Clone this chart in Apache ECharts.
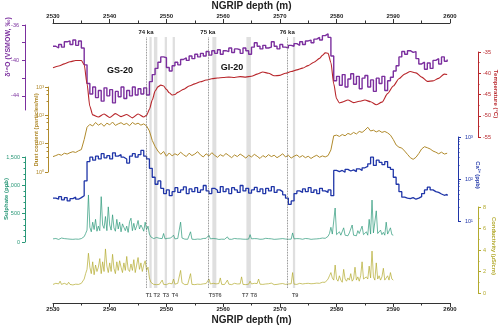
<!DOCTYPE html>
<html><head><meta charset="utf-8">
<script src="https://cdn.jsdelivr.net/npm/echarts@6/dist/echarts.min.js"></script>
<style>html,body{margin:0;padding:0;background:#fff}#c{width:500px;height:326px}</style>
</head><body><div id="c"></div>
<script>
// ---------- data ----------
const depthMin = 2530, depthMax = 2600;
const xTickLabels = [2530, 2540, 2550, 2560, 2570, 2580, 2590, 2600];

// δ18O, 0.5 m samples from 2530
const d18oStart = 2530, d18oStep = 0.5;
const d18oValues = [
 -38.4,-38.6,-38.2,-38.5,-37.9,-37.8,-38.2,-37.7,-38.3,-37.8,
 -38.6,-40.5,-42.6,-43.8,-43.0,-44.2,-43.4,-44.6,-43.1,-44.0,
 -43.3,-44.8,-43.5,-44.1,-43.0,-44.3,-43.4,-44.0,-43.0,-43.9,
 -43.2,-43.8,-43.1,-43.9,-42.4,-41.6,-40.9,-40.2,-39.6,-39.7,
 -40.8,-41.2,-40.6,-40.2,-40.5,-39.9,-39.7,-40.0,-39.5,-39.8,
 -39.3,-39.6,-39.2,-39.5,-39.0,-39.4,-38.9,-39.2,-38.8,-39.3,
 -38.9,-39.0,-38.6,-39.1,-38.7,-38.8,-39.2,-38.6,-38.9,-39.3,
 -38.5,-38.0,-38.4,-38.7,-38.3,-38.6,-38.5,-37.9,-38.4,-38.7,
 -38.2,-38.5,-38.6,-38.3,-38.4,-38.1,-38.3,-37.9,-38.2,-37.8,
 -37.7,-38.0,-37.6,-37.4,-37.7,-37.2,-37.0,-37.4,-39.5,-42.3,
 -41.8,-42.8,-41.6,-43.0,-42.1,-41.5,-42.7,-41.8,-43.2,-42.0,
 -41.7,-43.0,-42.2,-43.5,-42.0,-42.6,-41.8,-43.4,-42.3,-41.9,
 -41.2,-40.6,-39.6,-39.0,-39.3,-38.9,-39.1,-39.0,-39.8,-40.4,
 -40.2,-41.0,-40.3,-40.9,-40.0,-39.8,-40.4,-39.6,-40.1,-39.9
];

// Temperature (°C)
const tempDepths = [
 2530,2531,2532,2533,2534,2535,2535.5,2536,2536.5,2537,
 2538,2539,2540,2541,2542,2543,2544,2545,2546,2546.5,
 2547,2547.5,2548,2548.5,2549,2549.5,2550,2550.5,2551,2551.5,
 2552,2553,2554,2555,2556,2557,2558,2559,2560,2561,
 2562,2563,2564,2565,2566,2567,2568,2569,2570,2571,
 2572,2573,2574,2575,2576,2577,2577.5,2578,2578.5,2579,
 2579.5,2580,2580.5,2581,2582,2583,2584,2585,2586,2587,
 2588,2589,2590,2591,2592,2593,2594,2595,2596,2597,
 2598,2599,2599.5
];
const tempValues = [
 -38.7,-38.3,-37.8,-37.3,-37.0,-37.0,-38.0,-42.5,-47.8,-49.8,
 -50.3,-49.6,-50.4,-49.5,-50.2,-49.7,-50.5,-49.6,-50.3,-49.9,
 -48.5,-46.3,-44.2,-43.2,-42.8,-43.0,-43.8,-44.6,-45.1,-45.0,
 -44.5,-43.8,-43.0,-42.5,-42.0,-41.6,-41.3,-41.1,-41.0,-40.9,
 -41.0,-40.8,-40.9,-40.7,-40.2,-39.7,-40.0,-40.6,-40.5,-40.0,
 -39.6,-39.2,-38.8,-38.2,-37.4,-36.5,-35.8,-35.2,-35.3,-37.5,
 -42.5,-46.0,-47.0,-46.8,-46.3,-46.9,-46.6,-46.3,-46.7,-47.4,
 -46.8,-44.8,-43.0,-41.3,-40.2,-39.6,-39.9,-40.9,-41.9,-41.8,
 -41.2,-40.2,-40.3
];

// Dust (particles/ml), 0.5 m samples from 2530
const dustStart = 2530, dustStep = 0.5;
const dustValues = [
 3.5,3.8,4.2,3.9,4.6,4.3,4.8,5.2,4.9,5.6,
 6.2,14,38,48,42,56,45,52,41,53,
 46,58,44,50,55,47,52,43,56,48,
 53,45,50,42,28,13,8,5.5,4.2,5.3,
 3.6,4.7,3.7,4.4,3.9,5.0,4.1,3.5,4.6,3.8,
 4.3,5.2,4.0,3.4,4.4,3.7,4.8,3.9,3.3,4.1,
 3.6,4.5,3.8,3.2,4.0,3.5,4.3,3.7,3.1,3.9,
 3.4,4.2,3.6,3.0,3.8,3.3,4.1,3.5,3.9,3.2,
 3.7,4.4,3.4,3.9,3.1,3.6,4.0,3.3,3.8,3.2,
 3.6,3.0,3.5,3.9,3.3,3.7,3.4,3.8,6.0,19,
 20,18,21,19,23,21,25,22,27,25,
 30,38,28,30,26,29,25,27,24,20,
 14,9,7.5,7,5.5,4.2,3.2,2.8,3.3,4.5,
 6.5,7.8,7.2,6.5,5.5,5.0,4.4,5.0,4.3,4.6
];

// Ca2+ (ppb), 0.5 m samples from 2530
const caStart = 2530, caStep = 0.5;
const caValues = [
 35,33,38,32,36,30,34,37,33,36,
 40,90,260,330,280,350,300,400,320,360,
 300,420,350,380,330,300,240,350,400,330,
 380,480,350,300,180,110,75,90,60,45,
 55,40,50,62,48,55,65,45,58,50,
 62,48,55,70,52,45,60,54,48,66,
 50,58,45,62,55,48,70,52,60,46,
 55,63,50,58,45,60,52,66,48,55,
 50,42,35,25,30,45,52,48,58,50,
 62,48,55,45,60,52,48,55,40,160,
 150,160,145,170,155,165,150,175,160,185,
 200,230,330,210,280,250,220,260,190,170,
 110,75,50,37,35,34,36,33,35,38,
 45,55,64,55,50,48,44,41,43,40
];

// Sulphate (ppb), 0.25 m samples from 2530
const so4Start = 2530, so4Step = 0.25;
const so4Values = [
 55,48,62,50, 45,58,70,52, 60,48,55,85, 50,62,47,58, 52,66,49,55,
 60,48,95,150, 210,830,260,180, 350,220,400,190, 280,200,800,300, 240,450,200,620,
 300,210,480,250, 190,400,230,350, 180,320,260,200, 280,170,360,420, 200,330,210,280,
 380,230,300,250, 190,350,220,280, 140,90,70,60, 55,80,50,65, 48,60,150,55,
 50,65,48,70, 45,120,55,50, 62,48,350,70, 55,50,60,48, 52,180,50,58,
 45,60,52,70, 48,55,62,50, 65,48,120,55, 50,62,48,57, 52,45,60,50,
 58,48,55,90, 50,60,47,55, 62,50,56,48, 55,70,50,58, 48,60,52,130,
 55,47,60,50, 58,52,48,62, 50,55,65,48, 60,50,56,52, 47,58,50,62,
 55,48,60,50, 52,62,48,56, 50,160,55,48, 60,52,58,50, 48,56,62,52,
 58,50,47,60, 52,62,55,50, 60,54,70,58, 65,80,100,150, 260,140,120,600,
 130,110,180,120, 100,250,120,140, 110,160,130,300, 120,140,110,200, 150,120,280,130,
 110,180,120,400, 140,740,160,130, 550,150,120,210, 130,170,120,350, 140,120,250,130,
 120
];

// Conductivity (µS/cm), 0.25 m samples from 2530
const condStart = 2530, condStep = 0.25;
const condValues = [
 0.80,0.75,0.90,0.78, 0.85,1.10,0.80,0.76, 0.90,0.82,0.78,1.00, 0.80,0.85,0.75,0.88, 0.82,0.95,0.80,0.86,
 0.90,0.85,1.30,1.80, 2.2,3.7,2.4,1.8, 2.9,1.7,2.6,2.0, 2.4,3.2,1.8,2.9, 2.0,4.1,2.5,1.9,
 2.8,2.0,3.6,2.3, 1.8,2.9,2.1,3.0, 2.4,1.9,2.8,2.1, 3.4,2.2,2.0,2.7, 2.1,3.1,1.9,2.6,
 3.3,2.2,2.8,2.0, 2.6,3.0,2.1,2.4, 1.4,1.0,0.85,0.80, 0.90,0.78,0.85,0.80, 0.82,1.20,0.80,0.88,
 0.78,0.85,0.90,0.80, 0.85,1.30,0.82,0.78, 0.90,0.80,2.10,0.95, 0.82,0.78,0.86,0.80, 0.85,1.80,0.80,0.88,
 0.78,0.90,0.82,0.86, 0.80,0.92,0.85,0.78, 0.88,0.80,1.30,0.84, 0.80,0.90,0.78,0.85, 0.82,0.88,1.40,0.80,
 0.86,0.79,0.90,1.20, 0.82,0.88,0.78,0.85, 0.90,0.80,0.84,0.78, 0.85,1.50,0.80,0.88, 0.78,0.86,0.82,1.10,
 0.84,0.78,0.90,0.80, 0.88,1.30,0.82,0.86, 0.80,0.90,0.84,0.78, 0.86,0.80,0.92,0.82, 0.78,0.88,0.80,0.90,
 0.85,0.79,0.88,0.82, 0.80,0.92,0.84,0.78, 0.86,1.90,0.82,0.88, 0.80,0.86,0.90,0.82, 0.84,0.80,0.88,0.85,
 0.90,0.82,0.86,0.80, 0.88,0.84,0.92,0.86, 0.90,0.85,1.00,0.95, 1.00,1.10,1.30,1.60, 1.9,1.4,1.2,2.6,
 1.3,1.1,1.6,1.2, 1.0,2.2,1.3,1.1, 1.4,1.2,1.8,1.1, 1.3,2.4,1.2,1.5, 1.1,1.6,2.9,1.3,
 1.2,1.5,1.3,2.5, 1.4,3.9,1.5,1.2, 2.8,1.3,1.6,1.2, 1.5,2.3,1.2,1.4, 1.6,1.2,1.9,1.3,
 1.2
];

// Age markers and tephra bands
const kaDepths = [2546.4, 2557.3, 2571.3];
const kaNames = ['74 ka', '75 ka', '76 ka'];
const bandStarts = [2547.0, 2547.8, 2549.7, 2551.1, 2558.1, 2564.1, 2572.3];
const bandEnds   = [2547.4, 2548.4, 2550.1, 2551.5, 2558.8, 2564.9, 2572.7];
const tephraNames  = ['T1', 'T2', 'T3', 'T4', 'T5T6', 'T7', 'T8', 'T9'];
const tephraDepths = [2546.9, 2548.3, 2549.9, 2551.5, 2558.6, 2563.9, 2565.4, 2572.7];

// ---------- chart ----------
const FONT = '"Liberation Sans", Arial, sans-serif';
const C = {
  purple: '#7b2f9e', red: '#b8262b', dust: '#b08a2c', blue: '#1f35a8',
  so4: '#2a9878', cond: '#b3aa2e', axis: '#333'
};
const series_ = (start, step, vals) => vals.map((v, i) => [start + i * step, v]);
const sup = {0:'⁰',1:'¹',2:'²',3:'³'};
const logLabel = v => '10' + sup[Math.round(Math.log10(v))];

const L = 53, W = 397;
const grids = [
  {top: 37, height: 251},   // 0 bands
  {top: 25, height: 85},    // 1 d18O
  {top: 52, height: 85},    // 2 temperature
  {top: 87, height: 85},    // 3 dust
  {top: 137, height: 84},   // 4 Ca
  {top: 157, height: 85},   // 5 sulphate
  {top: 207, height: 86},   // 6 conductivity
  {top: 23, height: 280}    // 7 depth axes
].map(g => Object.assign({left: L, width: W, containLabel: false, outerBoundsMode: 'none'}, g));

const hiddenX = i => ({gridIndex: i, type: 'value', min: depthMin, max: depthMax, show: false});
const xAxes = [0,1,2,3,4,5,6].map(hiddenX);
const depthAxis = (pos) => ({
  gridIndex: 7, type: 'value', position: pos, min: depthMin, max: depthMax, interval: 10,
  axisLine: {show: true, onZero: false, lineStyle: {color: C.axis, width: 1}},
  axisTick: {show: true, length: 4, lineStyle: {color: C.axis}},
  minorTick: {show: true, splitNumber: 2, length: 2.5, lineStyle: {color: C.axis}},
  splitLine: {show: false},
  axisLabel: {fontSize: 6, fontWeight: 'bold', color: '#222', margin: pos === 'top' ? 4 : 3, fontFamily: FONT,
    formatter: v => xTickLabels.includes(v) ? String(v) : ''},
  name: 'NGRIP depth (m)', nameLocation: 'middle', nameGap: pos === 'top' ? 12 : 12,
  nameMoveOverlap: false,
  nameTextStyle: {fontSize: 10, fontWeight: 'bold', color: '#222', fontFamily: FONT}
});
xAxes.push(depthAxis('top'), depthAxis('bottom'));

const yAx = (gi, pos, offset, color, extra) => Object.assign({
  gridIndex: gi, type: 'value', position: pos, offset: offset,
  axisLine: {show: true, onZero: false, lineStyle: {color: color, width: 1}},
  axisTick: {show: true, length: 3, lineStyle: {color: color}},
  minorTick: {show: true, splitNumber: 2, length: 1.5, lineStyle: {color: color}},
  splitLine: {show: false},
  axisLabel: {fontSize: 5.5, color: color, margin: 5, fontFamily: FONT}
}, extra);

const yAxes = [
  {gridIndex: 0, type: 'value', min: 0, max: 1, show: false},
  yAx(1, 'left', 28, C.purple, {min: -45.6, max: -36,
    axisTick: {show: true, length: 3, lineStyle: {color: C.purple}, customValues: [-44, -42, -40, -38, -36]},
    minorTick: {show: false},
    axisLabel: {fontSize: 5.5, color: C.purple, margin: 6, fontFamily: FONT, customValues: [-44, -40, -36]}}),
  yAx(2, 'right', 28, C.red, {min: -55, max: -35, interval: 5}),
  yAx(3, 'left', 5, C.dust, {type: 'log', logBase: 10, min: 1, max: 1000,
    minorTick: {show: true, splitNumber: 4, length: 1.5, lineStyle: {color: C.dust}},
    axisLabel: {fontSize: 5.5, color: C.dust, margin: 4, fontFamily: FONT, formatter: logLabel}}),
  yAx(4, 'right', 8, C.blue, {type: 'log', logBase: 10, min: 10, max: 1000,
    minorTick: {show: true, splitNumber: 8, length: 1.5, lineStyle: {color: C.blue}},
    axisLabel: {fontSize: 5.5, color: C.blue, margin: 7, fontFamily: FONT, formatter: logLabel}}),
  yAx(5, 'left', 28, C.so4, {min: 0, max: 1500, interval: 500,
    minorTick: {show: true, splitNumber: 5, length: 1.5, lineStyle: {color: C.so4}}}),
  yAx(6, 'right', 28, C.cond, {min: 0, max: 8, interval: 2}),
  {gridIndex: 7, type: 'value', show: false}
];

const lineS = (xi, data, color, width, extra) => Object.assign({
  type: 'line', xAxisIndex: xi, yAxisIndex: xi, data: data, showSymbol: false, symbol: 'none',
  lineStyle: {color: color, width: width}, z: 3, silent: true
}, extra);

const option = {
  animation: false,
  textStyle: {fontFamily: FONT},
  grid: grids,
  xAxis: xAxes,
  yAxis: yAxes,
  series: [
    {
      type: 'scatter', xAxisIndex: 0, yAxisIndex: 0, z: 1, silent: true,
      symbolSize: 1, itemStyle: {color: 'rgba(0,0,0,0)'},
      data: tephraDepths.map((d, i) => ({value: [d, 0], name: tephraNames[i]})),
      label: {show: true, position: 'bottom', distance: 4, formatter: '{b}', fontSize: 5.5,
        fontWeight: 'bold', color: '#333', fontFamily: FONT},
      markArea: {silent: true, itemStyle: {color: 'rgba(185,185,185,0.45)'},
        data: bandStarts.map((s, i) => [{xAxis: s}, {xAxis: bandEnds[i]}])},
      markLine: {silent: true, symbol: ['none', 'none'],
        lineStyle: {type: 'dotted', color: '#666', width: 0.8},
        label: {show: true, position: 'end', formatter: '{b}', fontSize: 6, fontWeight: 'bold',
          color: '#222', distance: 2, fontFamily: FONT},
        data: kaDepths.map((d, i) => ({xAxis: d, name: kaNames[i]}))}
    },
    lineS(1, series_(d18oStart, d18oStep, d18oValues), C.purple, 1.4, {step: 'end'}),
    lineS(2, tempDepths.map((d, i) => [d, tempValues[i]]), C.red, 1.1, {smooth: 0.25, smoothMonotone: 'x'}),
    lineS(3, series_(dustStart, dustStep, dustValues), C.dust, 1.0),
    lineS(4, series_(caStart, caStep, caValues), C.blue, 1.3, {step: 'end'}),
    lineS(5, series_(so4Start, so4Step, so4Values), C.so4, 0.7),
    lineS(6, series_(condStart, condStep, condValues), C.cond, 0.7)
  ],
  graphic: [
    ['δ¹⁸O (VSMOW, ‰)', 8, 47, Math.PI / 2, C.purple, 7],
    ['Dust content (particles/ml)', 36, 130, Math.PI / 2, C.dust, 5.8],
    ['Sulphate (ppb)', 6, 199, Math.PI / 2, C.so4, 6],
    ['Temperature (°C)', 496, 94, -Math.PI / 2, C.red, 6],
    ['Ca²⁺ (ppb)', 478, 175, -Math.PI / 2, C.blue, 5.8],
    ['Conductivity (µS/cm)', 494, 246, -Math.PI / 2, C.cond, 5.8],
    ['GS-20', 120, 71, 0, '#111', 9],
    ['GI-20', 232, 68, 0, '#111', 9]
  ].map(t => ({
    type: 'text', x: t[1], y: t[2], rotation: t[3], silent: true, z: 10,
    style: {text: t[0], fill: t[4], font: 'bold ' + t[5] + 'px ' + FONT,
      align: 'center', verticalAlign: 'middle', textAlign: 'center', textVerticalAlign: 'middle'}
  }))
};

const chart = echarts.init(document.getElementById('c'), null, {renderer: 'canvas', width: 500, height: 326});
chart.setOption(option);
</script>
</body></html>
